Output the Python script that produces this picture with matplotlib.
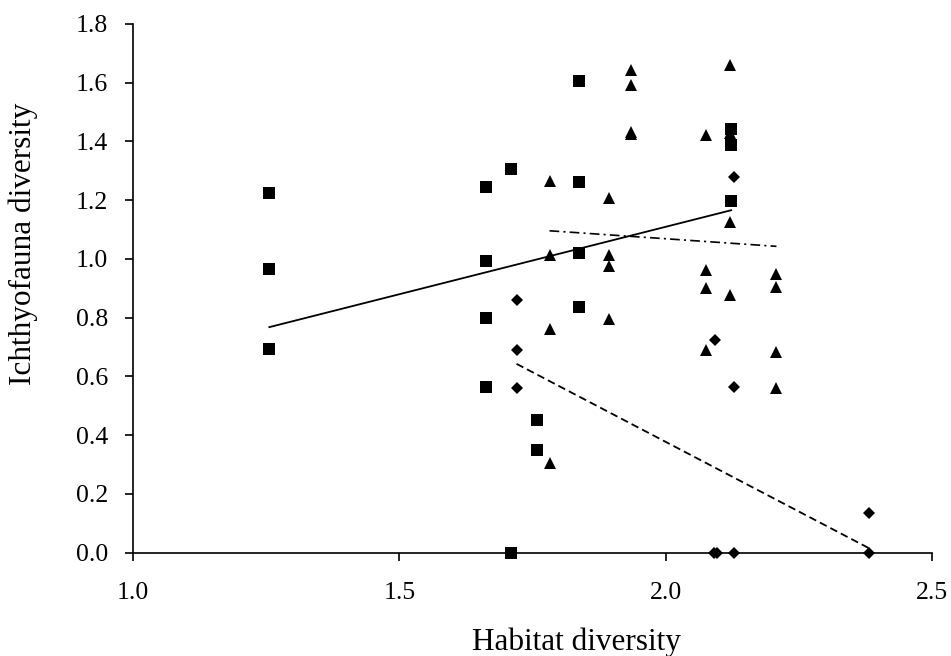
import numpy as np
import matplotlib
matplotlib.use('Agg')
import matplotlib.pyplot as plt
from matplotlib.ticker import FormatStrFormatter

plt.rcParams['font.family'] = ['Liberation Serif', 'DejaVu Serif']
plt.rcParams['lines.scale_dashes'] = False

# squares
sq_x = [1.256, 1.256, 1.256, 1.663, 1.663, 1.663, 1.663, 1.710, 1.710,
        1.759, 1.759, 1.838, 1.838, 1.838, 1.838, 2.123, 2.123, 2.123]
sq_y = [1.225, 0.966, 0.693, 1.246, 0.993, 0.798, 0.564, 1.307, 0.000,
        0.451, 0.349, 1.607, 1.263, 1.021, 0.837, 1.441, 1.389, 1.199]

# triangles
tr_x = [1.782, 1.782, 1.782, 1.782, 1.893, 1.893, 1.893, 1.893,
        1.934, 1.934, 1.934, 1.934, 2.076, 2.076, 2.076, 2.076,
        2.120, 2.120, 2.120, 2.120, 2.208, 2.208, 2.208, 2.208]
tr_y = [1.267, 1.012, 0.762, 0.307, 1.208, 1.014, 0.975, 0.796,
        1.643, 1.591, 1.432, 1.425, 1.421, 0.964, 0.901, 0.691,
        1.660, 1.430, 1.125, 0.876, 0.950, 0.905, 0.682, 0.560]

# diamonds
di_x = [1.720, 1.720, 1.720, 2.093, 2.090, 2.096, 2.128, 2.128, 2.128, 2.382, 2.382]
di_y = [0.862, 0.689, 0.560, 0.723, 0.000, 0.000, 1.279, 0.564, 0.000, 0.134, 0.000]

# trend line values at the series' min and max x
sq_trend = [0.768, 1.166]
tr_trend = [1.096, 1.043]
di_trend = [0.643, 0.015]

x_ticks = [1.0, 1.5, 2.0, 2.5]
y_ticks = [0.0, 0.2, 0.4, 0.6, 0.8, 1.0, 1.2, 1.4, 1.6, 1.8]

W, H = 951, 656
fig = plt.figure(figsize=(W / 100, H / 100), dpi=100)
ax = fig.add_axes([133 / W, 1 - 552.7 / H, (932 - 133) / W, (552.7 - 24) / H])

ax.plot([min(sq_x), max(sq_x)], sq_trend, color='black', lw=1.3, zorder=2)
ax.plot([min(tr_x), max(tr_x)], tr_trend, color='black', lw=1.2,
        dashes=(7, 3, 1.5, 3), zorder=2)
ax.plot([min(di_x), max(di_x)], di_trend, color='black', lw=1.3,
        dashes=(5.5, 3), zorder=2)

ax.plot(sq_x, sq_y, 's', color='black', ms=8.1, mew=0, clip_on=False, zorder=5)
ax.plot(tr_x, tr_y, '^', color='black', ms=9.2, mew=0, clip_on=False, zorder=5)
ax.plot(di_x, di_y, 'D', color='black', ms=6.0, mew=0, clip_on=False, zorder=5)

ax.set_xlim(1.0, 2.5)
ax.set_ylim(0.0, 1.8)
ax.set_xticks(x_ticks)
ax.set_yticks(y_ticks)
ax.xaxis.set_major_formatter(FormatStrFormatter('%.1f'))
ax.yaxis.set_major_formatter(FormatStrFormatter('%.1f'))

for s in ['top', 'right']:
    ax.spines[s].set_visible(False)
for s in ['left', 'bottom']:
    ax.spines[s].set_linewidth(1.2)
    ax.spines[s].set_color('black')

ax.tick_params(axis='x', direction='out', length=5.8, width=1.2, pad=15, labelsize=18.5)
ax.tick_params(axis='y', direction='out', length=5.8, width=1.2, pad=12, labelsize=18.5)

fig.text(576 / W, 1 - 650 / H, 'Habitat diversity', ha='center', va='baseline',
         fontsize=22.5)
fig.text(23 / W, 1 - 243.5 / H, 'Ichthyofauna diversity', ha='center', va='center',
         rotation=90, fontsize=22.5)

fig.savefig('out.png', dpi=100)
